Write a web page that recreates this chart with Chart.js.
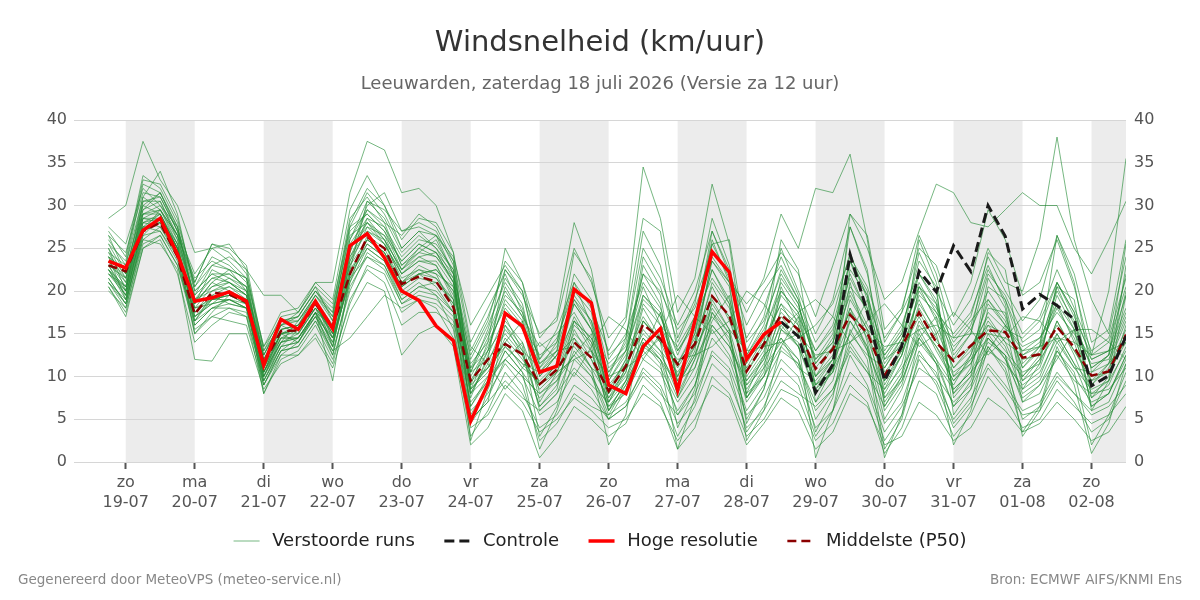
<!DOCTYPE html>
<html>
<head>
<meta charset="utf-8">
<script src="https://cdn.jsdelivr.net/npm/chart.js@4/dist/chart.umd.min.js"></script>
<style>
html,body{margin:0;padding:0;background:#fff;}
#wrap{position:relative;width:1200px;height:600px;font-family:"DejaVu Sans",sans-serif;}
canvas{position:absolute;left:0;top:0;}
.t{position:absolute;white-space:nowrap;line-height:1;}
#title{left:0;width:1200px;text-align:center;top:26.5px;font-size:29px;color:#333;}
#subtitle{left:0;width:1200px;text-align:center;top:74px;font-size:18px;color:#666;}
#fl{left:18px;top:573px;font-size:13.5px;color:#888;}
#fr{right:18px;top:573px;font-size:13.5px;color:#888;}
</style>
</head>
<body>
<div id="wrap">
<canvas id="c" width="1200" height="600"></canvas>
<div class="t" id="title">Windsnelheid (km/uur)</div>
<div class="t" id="subtitle">Leeuwarden, zaterdag 18 juli 2026 (Versie za 12 uur)</div>
<div class="t" id="fl">Gegenereerd door MeteoVPS (meteo-service.nl)</div>
<div class="t" id="fr">Bron: ECMWF AIFS/KNMI Ens</div>
</div>
<script>
// time grid: hours relative to 19-07 00:00, 6-hourly from 18-07 18:00
const firstHour = -6;
const stepHours = 6;

// x-axis day ticks
const dayHours = [0,24,48,72,96,120,144,168,192,216,240,264,288,312,336];
const dayNames = ['zo','ma','di','wo','do','vr','za','zo','ma','di','wo','do','vr','za','zo'];
const dayDates = ['19-07','20-07','21-07','22-07','23-07','24-07','25-07','26-07','27-07','28-07','29-07','30-07','31-07','01-08','02-08'];
const yTicks = [0,5,10,15,20,25,30,35,40];

// Hoge resolutie (from 18-07 18:00 to 28-07 12:00)
const hresValues = [23.5, 22.7,27.1,28.5,24.3, 18.8,19.2,19.9,18.8, 11.3,16.7,15.5,18.8, 15.6,25.3,26.7,23.9,
  20.0,18.9,15.9,14.2, 4.8,9.1,17.4,15.9, 10.5,11.2,20.2,18.6, 9.0,8.0,13.5,15.6, 8.4,16.5,24.6,22.2, 12.0,14.9,16.4];

// Controle (shown from 28-07 12:00)
const controlStartIndex = 39;
const controlValues = [16.4, 14.7, 8.1,11.4,24.3,17.5, 9.5,13.6,22.3,19.9, 25.3,22.3,30.0,26.4, 17.9,19.6,18.3,16.7, 8.9,10.1,14.7];

// Middelste (P50)
const p50Values = [23.0, 22.3,27.0,28.0,24.0, 17.3,19.8,19.6,18.7, 11.5,15.3,15.4,18.5, 15.8,22.0,26.3,25.0,
  20.8,21.7,21.1,18.1, 9.5,12.0,13.8,12.6, 9.1,10.8,14.0,12.2, 8.3,11.2,16.1,14.4, 11.4,13.8,19.4,17.1,
  10.6,13.8,17.2,15.5, 10.9,13.2,17.2,15.1, 10.1,13.5,17.5,14.0, 11.8,13.6,15.4,15.2, 12.2,12.6,15.8,13.4, 10.1,10.6,14.9];

// Verstoorde runs (ensemble members)
const m01 = [24.5, 21.0,29.5,30.5,26.0, 19.5,21.5,22.0,20.5, 12.0,15.5,16.0,19.5, 17.0,27.5,29.0,27.0, 22.5,24.0,23.0,19.0, 7.5,12.5,17.0,13.0, 6.5,9.0,15.5,12.0, 7.0,10.5,18.0,14.5, 10.0,15.0,22.5,18.5, 9.5,12.0,20.5,16.0, 8.5,10.5,21.0,14.0, 6.0,9.0,15.5,12.0, 9.0,12.5,19.0,16.5, 11.0,13.0,18.5,14.0, 8.0,9.5,16.0];
const m02 = [22.0, 19.5,27.5,29.0,25.0, 17.0,18.5,20.0,19.0, 10.5,14.0,14.5,17.5, 14.0,21.5,25.5,24.0, 20.5,22.0,22.5,20.0, 10.0,13.5,18.5,16.0, 12.5,14.0,22.0,19.0, 11.0,13.0,19.5,17.0, 13.0,16.5,26.0,21.0, 14.5,18.0,24.0,19.5, 12.0,15.0,23.5,18.0, 9.0,12.5,20.0,17.0, 13.0,16.0,22.5,19.0, 14.0,15.5,21.0,17.5, 12.0,13.0,19.5];
const m03 = [20.5, 17.0,25.0,26.0,22.0, 14.0,16.0,17.5,17.0, 8.0,12.0,13.0,16.0, 12.0,18.5,23.0,22.0, 17.5,19.0,18.0,14.5, 3.0,6.0,10.5,8.0, 4.0,5.5,9.0,7.5, 5.0,6.5,11.0,9.0, 4.5,7.0,13.0,11.0, 5.5,7.5,12.0,10.0, 4.0,6.0,12.5,9.0, 3.5,6.5,11.0,9.5, 5.0,7.5,11.5,9.0, 6.0,7.0,10.5,8.0, 5.5,6.5,9.0];
const m04 = [27.0, 24.0,33.5,32.0,28.0, 21.0,25.5,24.5,22.0, 13.5,17.5,18.0,21.0, 19.0,29.5,33.5,30.0, 25.0,27.0,26.5,22.0, 12.0,16.0,21.0,18.0, 10.5,13.0,19.0,15.5, 8.0,12.0,24.0,20.5, 14.0,18.5,28.5,23.0, 13.0,17.0,25.0,20.0, 15.0,19.0,27.5,22.0, 12.0,15.0,24.5,20.0, 16.0,19.0,25.0,21.0, 20.0,26.0,38.0,26.0, 19.0,15.0,24.0];
const m05 = [23.5, 20.5,28.0,27.5,24.5, 18.5,22.5,21.5,20.5, 11.5,16.0,15.0,18.0, 15.0,24.0,28.0,26.5, 23.5,25.5,24.5,21.0, 8.5,10.5,14.0,11.0, 9.5,11.5,17.0,13.5, 6.0,8.5,13.5,12.0, 9.0,12.5,18.0,15.0, 7.0,10.0,16.5,13.5, 10.0,12.0,18.0,13.0, 8.0,11.5,18.5,15.5, 11.0,13.5,17.0,14.0, 9.5,11.0,16.5,12.5, 7.5,9.0,13.5];
const m06 = [21.5, 18.5,26.5,27.0,23.5, 16.0,18.0,18.5,18.0, 9.5,13.5,14.0,17.0, 13.0,20.0,24.5,23.0, 19.0,20.5,20.0,17.5, 5.5,9.0,13.0,10.5, 7.5,9.5,14.5,11.0, 9.5,12.5,17.0,14.0, 11.5,14.0,20.5,16.5, 11.0,14.5,18.5,15.0, 9.0,11.0,15.0,12.5, 11.0,14.0,19.0,15.0, 8.0,10.0,14.0,12.5, 10.0,12.0,15.0,11.5, 9.0,11.0,15.5];
const m07 = [28.5, 30.0,37.5,33.0,30.0, 24.5,25.0,25.5,22.5, 19.5,19.5,17.5,21.0, 21.0,31.5,37.5,36.5, 31.5,32.0,30.0,24.5, 14.0,18.0,22.0,17.5, 12.0,15.5,21.0,16.0, 10.0,14.5,25.0,21.5, 16.0,20.0,27.0,22.0, 17.5,21.5,29.0,25.0, 32.0,31.5,36.0,26.0, 14.0,17.5,26.5,22.0, 14.5,17.0,24.0,20.0, 16.5,19.0,26.5,22.0, 14.0,15.5,26.0];
const m08 = [22.5, 20.0,30.5,31.0,27.0, 19.0,20.5,21.0,19.5, 10.0,14.5,15.5,19.0, 14.5,22.5,30.5,28.5, 24.5,26.5,25.0,21.5, 6.0,8.0,11.5,9.0, 2.5,4.5,8.0,6.5, 5.5,7.0,10.5,8.5, 3.0,6.5,11.5,9.5, 4.0,6.0,9.5,8.0, 6.5,8.5,14.0,11.0, 4.5,7.0,13.0,10.0, 7.0,9.0,13.5,11.0, 5.0,6.5,10.0,8.0, 6.0,7.0,11.5];
const m09 = [25.5, 22.0,31.0,29.5,25.5, 17.5,19.5,18.5,18.0, 11.0,15.0,14.0,17.5, 16.0,23.0,26.0,24.5, 21.0,23.0,22.0,20.5, 11.0,15.0,20.0,17.0, 13.5,15.0,17.5,14.0, 7.5,11.0,15.5,13.0, 10.5,13.5,17.0,14.5, 8.0,12.5,21.5,18.5, 11.5,14.5,22.0,17.5, 10.5,13.0,17.0,13.0, 9.5,12.0,16.5,14.0, 12.5,14.0,20.0,16.5, 11.0,12.5,17.5];
const m10 = [20.0, 18.0,25.5,26.5,23.0, 15.5,17.0,16.5,16.0, 9.0,12.5,12.5,15.0, 11.5,19.0,22.5,21.0, 16.0,17.5,17.5,16.0, 4.5,7.5,12.0,10.0, 8.0,10.0,12.5,10.0, 6.5,8.0,12.0,10.5, 6.0,9.0,14.5,12.0, 6.0,9.0,13.0,11.5, 7.0,9.5,16.5,13.0, 5.0,8.5,14.0,11.5, 6.5,9.5,15.0,12.0, 7.5,9.0,13.0,10.0, 7.0,8.0,12.0];
const m11 = [26.0, 23.0,32.5,31.5,27.5, 20.5,24.0,23.0,21.0, 12.5,16.5,17.0,20.0, 18.0,28.5,31.0,28.0, 26.5,29.0,27.5,23.5, 9.0,14.0,25.0,21.0, 14.5,17.0,28.0,22.5, 12.0,15.0,21.0,18.0, 12.5,17.0,25.5,21.5, 12.5,16.0,22.5,19.0, 14.0,17.0,24.5,19.0, 13.0,16.0,22.0,18.5, 12.0,15.0,22.0,19.5, 15.0,17.0,22.5,18.0, 13.0,14.5,21.5];
const m12 = [23.0, 21.5,28.5,28.5,25.0, 18.0,19.0,19.5,18.5, 11.0,15.0,15.0,18.0, 15.5,25.0,27.5,25.5, 21.5,22.5,21.5,18.5, 9.5,11.0,13.5,11.5, 10.5,12.5,14.5,12.0, 8.5,12.0,16.5,14.5, 11.0,14.5,19.5,17.0, 10.5,13.5,17.5,15.5, 11.0,13.5,17.5,15.0, 10.0,13.5,17.5,14.0, 12.0,13.5,16.0,15.0, 12.0,12.5,16.0,13.0, 10.0,10.5,14.5];
const m13 = [24.0, 19.0,27.0,29.5,26.5, 21.0,25.5,25.0,23.0, 13.0,16.0,17.5,20.5, 16.5,26.0,30.5,29.5, 27.0,27.5,26.5,24.0, 16.0,19.5,23.0,20.0, 11.0,14.0,21.0,18.0, 13.0,16.5,28.5,27.0, 14.5,19.0,24.5,22.0, 16.0,20.0,23.0,19.0, 7.0,11.0,29.0,26.5, 15.5,18.0,25.0,23.0, 17.0,21.0,29.5,26.0, 19.5,21.0,26.0,20.5, 12.5,20.0,35.5];
const m14 = [21.0, 19.0,26.0,25.5,22.5, 12.0,11.8,15.0,15.0, 8.5,11.5,12.5,14.5, 11.0,17.5,21.0,20.0, 12.5,15.0,16.0,13.5, 2.0,4.0,8.0,6.0, 0.5,3.0,6.5,5.0, 3.0,4.5,9.0,7.0, 1.5,4.0,10.0,8.0, 3.0,5.0,8.5,7.5, 2.5,4.5,9.0,7.0, 1.0,4.0,9.5,8.0, 3.0,5.5,10.0,7.5, 4.0,5.0,8.5,6.5, 4.5,5.5,8.0];
const m15 = [22.0, 20.5,29.0,30.0,26.5, 18.5,21.0,22.5,21.5, 10.5,14.0,16.5,19.0, 13.5,23.5,28.5,27.5, 23.0,25.0,24.0,21.5, 8.0,11.5,16.5,14.0, 6.0,8.0,13.0,10.5, 5.5,9.0,14.0,12.0, 7.5,11.0,17.5,14.0, 5.0,8.5,15.5,13.5, 8.0,10.5,19.0,15.5, 7.0,10.0,16.0,13.5, 10.5,12.0,14.5,12.0, 8.5,10.0,15.0,11.5, 6.5,8.0,12.5];
const m16 = [25.0, 20.0,28.0,28.5,25.5, 16.5,19.5,20.5,19.0, 10.0,13.5,15.5,18.5, 14.5,24.5,29.5,28.0, 23.0,24.5,26.0,22.0, 13.0,17.0,22.5,19.5, 15.0,16.5,25.0,21.0, 14.5,17.0,34.5,28.5, 17.5,21.5,32.5,25.5, 11.5,15.0,21.0,18.0, 13.0,16.0,23.5,20.0, 9.5,12.5,19.5,17.5, 15.0,17.5,23.0,18.5, 10.0,12.5,19.5,15.5, 9.0,11.5,20.0];
const m17 = [27.5, 25.5,32.0,30.0,27.5, 19.0,20.0,21.0,20.0, 12.5,16.5,16.5,19.5, 17.5,26.5,28.0,25.5, 22.0,23.5,23.0,19.5, 10.5,12.0,15.0,12.5, 8.5,10.5,16.0,14.0, 9.0,11.5,15.0,13.0, 8.0,12.0,16.0,13.5, 9.0,11.0,14.0,12.0, 5.0,8.0,13.5,10.5, 8.5,11.0,14.5,12.0, 6.5,8.5,13.0,11.5, 9.0,10.5,14.5,11.0, 8.5,9.5,13.0];
const m18 = [22.5, 19.5,27.0,28.0,24.5, 17.5,20.0,20.5,19.5, 11.5,15.5,16.0,18.5, 15.0,24.0,27.0,25.5, 22.0,23.5,23.5,20.5, 11.5,14.0,18.0,15.5, 11.5,13.5,19.5,16.5, 10.5,14.0,22.0,20.0, 15.5,18.0,23.5,21.0, 18.5,21.0,24.5,22.0, 17.0,23.0,29.0,25.0, 19.0,21.0,27.0,32.5, 31.5,28.0,27.5,29.5, 31.5,30.0,30.0,25.0, 22.0,26.0,30.5];
const m19 = [24.0, 22.5,30.0,29.0,25.0, 18.0,18.5,19.0,18.0, 11.0,14.5,14.5,17.5, 14.0,22.5,25.5,24.0, 20.0,21.5,21.0,19.0, 6.5,10.0,14.5,12.0, 9.0,11.5,18.5,15.5, 11.5,13.5,20.5,16.0, 11.5,15.5,22.5,19.0, 12.0,14.0,18.5,16.5, 10.0,12.5,20.0,16.0, 12.5,15.0,20.5,16.5, 11.0,13.0,18.5,16.0, 13.0,14.5,17.5,15.0, 11.5,12.0,17.0];
const m20 = [21.0, 18.0,26.0,27.5,24.0, 15.0,17.0,18.0,17.5, 9.0,13.0,13.5,16.5, 12.5,20.5,24.0,23.0, 18.5,19.5,19.0,17.0, 5.0,7.0,9.5,7.5, 6.0,8.0,11.0,9.0, 7.0,9.5,13.0,11.0, 7.0,10.0,15.5,12.5, 7.5,10.0,14.5,12.0, 6.0,8.5,13.0,10.5, 6.5,9.5,15.0,11.5, 8.5,10.5,14.5,12.5, 7.0,8.0,12.5,9.5, 8.0,8.5,11.0];
const m21 = [26.5, 24.5,31.5,31.0,27.0, 22.0,25.0,23.5,21.5, 13.0,17.0,17.5,20.5, 18.5,27.5,31.5,29.0, 25.0,27.0,25.0,22.5, 9.5,13.0,19.0,16.5, 7.0,10.5,15.0,13.0, 6.0,9.5,16.5,14.0, 9.5,13.5,21.0,18.0, 10.0,13.0,19.5,17.0, 13.0,15.5,21.5,17.5, 11.5,14.5,21.0,17.5, 13.5,15.5,20.0,17.0, 11.0,13.5,18.0,14.5, 9.5,11.5,16.5];
const m22 = [20.5, 17.5,25.0,26.5,23.0, 16.5,18.0,18.0,17.0, 9.5,13.0,13.5,16.5, 13.0,14.5,17.0,19.5, 18.0,19.0,18.5,16.5, 7.0,9.5,12.0,10.0, 5.5,7.0,10.5,8.5, 5.0,6.5,10.0,8.0, 5.5,8.0,12.5,10.5, 3.5,6.5,11.0,9.0, 3.0,6.0,10.5,8.5, 2.5,5.5,12.0,9.0, 4.0,6.5,11.0,8.5, 5.5,6.0,9.5,7.0, 3.5,5.0,9.5];
const m23 = [23.5, 21.0,29.0,29.0,25.5, 19.5,23.0,22.5,20.0, 12.0,15.5,16.0,19.0, 16.0,25.5,28.5,26.0, 22.5,24.5,24.0,21.0, 12.5,16.5,23.5,21.0, 12.0,14.5,20.0,17.5, 7.0,11.0,18.5,16.0, 13.5,17.0,21.5,18.5, 9.0,12.0,17.0,14.5, 16.0,18.5,24.0,20.5, 14.5,17.5,22.0,19.0, 10.0,12.5,17.5,15.5, 14.5,16.5,21.0,17.0, 12.5,14.0,20.5];
const m24 = [22.0, 20.0,27.5,27.0,24.0, 17.5,19.0,19.5,19.0, 10.5,14.5,14.5,17.5, 14.5,21.0,26.5,25.0, 21.0,22.5,22.0,18.0, 6.5,9.5,13.5,11.5, 9.0,11.0,16.5,13.0, 6.0,9.5,14.5,12.5, 9.0,12.5,18.5,15.5, 8.5,11.5,16.0,13.5, 8.5,11.5,16.5,13.5, 7.5,10.5,16.5,13.5, 9.5,11.5,15.5,13.0, 10.5,11.5,16.5,13.0, 9.5,10.5,14.0];
const m25 = [25.0, 21.5,29.5,31.5,27.5, 18.5,21.0,20.0,18.5, 10.5,15.0,15.5,18.5, 15.5,23.5,27.0,26.0, 22.5,25.0,26.5,23.5, 13.5,11.5,8.5,11.0, 14.0,12.0,10.0,13.5, 17.0,15.5,12.0,15.0, 19.5,17.0,15.0,16.5, 20.0,18.5,15.5,17.5, 19.0,17.0,14.0,16.5, 18.5,16.0,13.5,15.0, 17.5,15.5,12.5,14.5, 17.0,16.5,14.0,15.5, 15.5,14.0,12.0];
const m26 = [21.5, 18.5,26.5,28.5,25.0, 17.0,18.5,19.0,18.0, 10.0,14.0,15.0,18.0, 13.5,22.0,25.0,23.5, 19.5,21.0,19.5,15.5, 4.0,5.5,9.0,7.0, 3.5,5.0,7.5,6.0, 4.0,5.0,8.0,6.5, 2.5,5.0,9.0,7.5, 2.0,4.5,7.5,6.0, 1.5,3.5,8.0,6.5, 2.0,3.0,7.0,5.5, 2.5,4.0,7.5,6.0, 3.5,4.5,7.0,5.0, 2.5,3.5,6.5];
const m27 = [24.5, 23.0,31.0,34.0,29.0, 20.0,22.0,21.0,19.5, 11.5,15.0,16.0,18.5, 15.5,24.5,30.0,31.5, 27.0,28.0,27.0,23.0, 10.5,15.5,21.5,18.5, 10.0,12.5,18.5,15.5, 9.5,13.0,19.0,17.0, 11.5,15.0,25.5,26.0, 14.0,16.5,22.0,18.5, 11.5,14.0,20.5,18.0, 12.0,13.5,22.0,20.0, 7.5,10.0,20.5,19.0, 12.5,13.5,20.5,19.0, 7.5,10.0,23.0];
const m28 = [23.0, 19.5,27.5,28.0,24.5, 16.0,18.0,19.0,18.5, 9.5,13.5,14.0,17.0, 14.5,21.5,24.0,22.5, 18.5,20.0,19.5,17.5, 8.5,11.0,15.5,13.0, 11.0,13.0,13.5,11.0, 7.5,10.0,14.5,12.0, 5.5,9.0,16.0,13.5, 9.5,12.5,14.5,11.0, 9.5,12.0,18.0,14.5, 8.5,12.5,18.0,14.5, 10.0,11.5,16.0,13.5, 8.0,9.5,14.0,11.0, 10.5,11.5,14.0];
const m29 = [26.5, 22.0,30.5,30.5,26.5, 21.5,23.5,22.5,21.5, 13.5,16.5,17.0,20.0, 17.0,27.0,29.0,27.0, 23.5,25.5,24.5,22.0, 8.0,12.0,22.5,20.0, 11.5,13.0,24.5,21.5, 12.5,14.5,27.0,23.0, 13.0,16.0,27.0,22.5, 10.5,14.0,26.0,22.5, 10.0,13.5,27.5,22.5, 9.5,13.0,26.0,21.0, 12.5,15.0,24.5,22.5, 11.5,13.5,26.5,21.0, 10.5,12.5,25.5];
const m30 = [22.5, 19.0,28.0,29.0,25.0, 15.0,17.5,19.5,19.0, 8.0,12.5,14.0,17.5, 9.5,22.0,26.0,24.5, 20.5,22.0,21.5,19.0, 2.5,8.5,13.0,10.5, 1.5,6.0,12.0,10.0, 5.0,8.5,14.0,11.5, 1.5,7.5,17.5,15.0, 4.5,8.5,15.5,14.0, 0.5,6.0,15.5,12.0, 0.5,5.5,14.5,11.5, 2.0,6.0,13.5,10.5, 3.5,6.5,13.5,9.0, 1.0,4.5,11.5];
const m31 = [23.0, 20.0,28.5,29.5,26.0, 18.0,20.5,21.5,20.0, 10.5,15.0,15.5,18.5, 15.0,23.0,27.5,26.5, 22.0,24.0,24.5,21.0, 9.0,11.0,14.0,16.5, 8.0,9.5,12.5,15.0, 6.5,9.0,13.0,17.5, 9.5,11.0,16.5,19.5, 8.0,10.0,13.5,17.0, 9.0,10.5,15.0,19.0, 7.5,9.5,14.5,17.0, 8.5,10.5,13.0,16.0, 7.0,9.0,12.0,15.5, 6.5,8.0,12.5];
const m32 = [24.0, 21.5,30.0,31.5,27.0, 20.0,22.0,22.0,20.5, 12.5,16.0,16.5,19.5, 16.5,26.0,29.5,27.5, 24.0,26.0,25.5,22.5, 5.0,7.0,16.0,13.5, 3.0,6.5,14.0,11.0, 2.0,5.5,16.5,14.0, 4.0,8.5,19.0,15.5, 2.5,6.0,13.5,11.5, 3.5,7.5,17.5,13.5, 1.5,5.0,12.5,10.5, 4.5,7.0,14.5,12.5, 3.0,6.0,13.0,10.5, 2.0,5.5,10.5];
const m33 = [21.0, 18.5,27.0,28.0,24.0, 16.5,19.0,19.5,18.5, 9.0,13.0,14.5,17.5, 12.5,21.0,25.0,23.5, 19.0,20.5,21.0,18.5, 10.5,14.5,19.5,17.5, 10.0,12.5,16.5,14.5, 10.5,13.0,22.0,18.5, 7.5,12.0,19.5,17.0, 12.5,15.5,20.0,17.5, 12.0,14.0,19.5,15.5, 11.0,14.5,20.5,18.0, 14.0,16.5,19.0,16.0, 13.5,14.5,18.5,15.5, 12.0,13.0,18.0];
const m34 = [25.5, 23.5,33.0,32.5,28.5, 20.5,23.0,24.0,22.5, 12.0,16.0,17.0,20.0, 17.5,28.0,32.0,30.0, 26.0,28.5,28.0,24.5, 8.5,13.0,20.5,17.0, 9.0,11.5,19.0,16.5, 8.0,11.5,23.0,19.5, 9.0,13.0,24.0,21.0, 7.5,11.0,20.0,17.5, 9.0,12.0,23.5,19.5, 6.5,10.0,20.5,18.5, 8.0,11.0,21.5,18.0, 8.5,11.5,21.0,17.5, 6.0,9.5,19.5];
const m35 = [22.5, 20.5,28.5,28.0,25.0, 17.0,19.0,19.0,18.0, 10.0,14.0,14.5,17.0, 13.5,22.0,26.0,24.5, 20.5,22.0,20.5,17.5, 8.0,10.0,12.0,14.0, 9.0,10.5,12.0,13.0, 10.0,11.0,12.5,14.5, 12.0,12.5,13.5,15.5, 13.0,13.5,14.0,15.0, 12.5,13.0,14.0,15.5, 13.5,14.0,15.5,16.0, 14.5,15.0,15.0,14.5, 13.0,13.5,14.5,14.0, 12.5,13.0,14.0];
const m36 = [24.0, 22.0,29.0,29.5,26.5, 19.0,21.5,21.0,19.5, 11.5,15.0,15.5,18.0, 15.5,25.0,28.0,26.0, 21.0,22.0,22.5,20.0, 11.0,13.0,16.0,12.5, 6.5,8.5,16.5,14.5, 8.0,10.5,19.5,17.5, 10.0,14.0,23.5,20.5, 7.5,10.5,18.0,16.0, 8.0,11.0,22.5,19.5, 12.5,15.5,23.5,20.5, 5.5,8.5,18.0,17.5, 9.5,12.0,20.5,16.0, 11.0,12.5,22.0];
const members = [m01,m02,m03,m04,m05,m06,m07,m08,m09,m10,m11,m12,m13,m14,m15,m16,m17,m18,
  m19,m20,m21,m22,m23,m24,m25,m26,m27,m28,m29,m30,m31,m32,m33,m34,m35,m36];

const toPoints = (vals, offset) => vals.map((v, i) => ({x: firstHour + (offset + i) * stepHours, y: v}));

Chart.defaults.font.family = '"DejaVu Sans", sans-serif';

const memberColor = 'rgba(34,139,52,0.62)';
const datasets = members.map((m, k) => ({
  label: k === 0 ? 'Verstoorde runs' : 'Verstoorde runs ' + (k + 1),
  data: toPoints(m, 0),
  borderColor: memberColor,
  backgroundColor: memberColor,
  borderWidth: 1,
  pointRadius: 0,
  order: 10
}));
datasets.push({
  label: 'Controle', data: toPoints(controlValues, controlStartIndex),
  borderColor: '#1a1a1a', backgroundColor: '#1a1a1a', borderWidth: 3, borderDash: [10, 5],
  pointRadius: 0, order: 2
});
datasets.push({
  label: 'Hoge resolutie', data: toPoints(hresValues, 0),
  borderColor: '#ff0000', backgroundColor: '#ff0000', borderWidth: 3.5,
  pointRadius: 0, order: 1
});
datasets.push({
  label: 'Middelste (P50)', data: toPoints(p50Values, 0),
  borderColor: '#8b0000', backgroundColor: '#8b0000', borderWidth: 2.5, borderDash: [9, 5],
  pointRadius: 0, order: 3
});

const bandPlugin = {
  id: 'dayBands',
  beforeDraw(chart) {
    const {ctx, chartArea: a, scales: {x}} = chart;
    ctx.save();
    ctx.fillStyle = '#ececec';
    for (let d = 0; d < dayHours.length; d += 2) {
      const x0 = Math.max(x.getPixelForValue(dayHours[d]), a.left);
      const x1 = Math.min(x.getPixelForValue(dayHours[d] + 24), a.right);
      if (x1 > x0) ctx.fillRect(x0, a.top, x1 - x0, a.bottom - a.top);
    }
    ctx.restore();
  }
};

const legendLead = '\u2009';
const legendGap = '  ';
const tickFont = {size: 16, lineHeight: 1.3};
new Chart(document.getElementById('c'), {
  type: 'line',
  data: {datasets},
  plugins: [bandPlugin],
  options: {
    responsive: false,
    animation: false,
    devicePixelRatio: 1,
    layout: {padding: {top: 120, bottom: 40, left: 0, right: 0}},
    plugins: {
      title: {display: false},
      tooltip: {enabled: false},
      legend: {
        position: 'bottom',
        labels: {
          usePointStyle: true,
          pointStyle: 'line',
          pointStyleWidth: 26,
          padding: 18,
          color: '#222',
          font: {size: 18},
          generateLabels: (chart) => {
            const n = chart.data.datasets.length;
            return chart.data.datasets.map((ds, i) => ({
              text: legendLead + ds.label + (i === n - 1 ? '' : legendGap),
              datasetIndex: i,
              fillStyle: ds.borderColor,
              strokeStyle: ds.borderColor,
              fontColor: '#222',
              lineWidth: ds.borderWidth,
              lineDash: ds.borderDash || [],
              pointStyle: 'line',
              hidden: false
            }));
          },
          filter: (item) => item.datasetIndex === 0 || item.datasetIndex >= members.length,
          sort: (a, b) => a.datasetIndex - b.datasetIndex
        }
      }
    },
    scales: {
      x: {
        type: 'linear',
        min: -18,
        max: 348,
        afterBuildTicks: (scale) => { scale.ticks = dayHours.map(v => ({value: v})); },
        afterFit: (scale) => { scale.height = 52; },
        ticks: {
          autoSkip: false, maxRotation: 0, color: '#555', font: tickFont, padding: 3,
          callback: (value, index) => [dayNames[index], dayDates[index]]
        },
        grid: {drawOnChartArea: false, drawTicks: true, tickLength: 7, tickWidth: 2, tickColor: '#555', color: '#555'},
        border: {display: false}
      },
      y: {
        position: 'left', min: 0, max: 40,
        afterBuildTicks: (scale) => { scale.ticks = yTicks.map(v => ({value: v})); },
        afterFit: (scale) => { scale.width = 74; },
        ticks: {color: '#555', font: {size: 16}, padding: 7},
        grid: {color: '#d6d6d6', lineWidth: 1, drawTicks: false},
        border: {display: false}
      },
      y2: {
        position: 'right', min: 0, max: 40,
        afterBuildTicks: (scale) => { scale.ticks = yTicks.map(v => ({value: v})); },
        afterFit: (scale) => { scale.width = 74; },
        ticks: {color: '#555', font: {size: 16}, padding: 8},
        grid: {display: false, drawTicks: false},
        border: {display: false}
      }
    }
  }
});
</script>
</body>
</html>
